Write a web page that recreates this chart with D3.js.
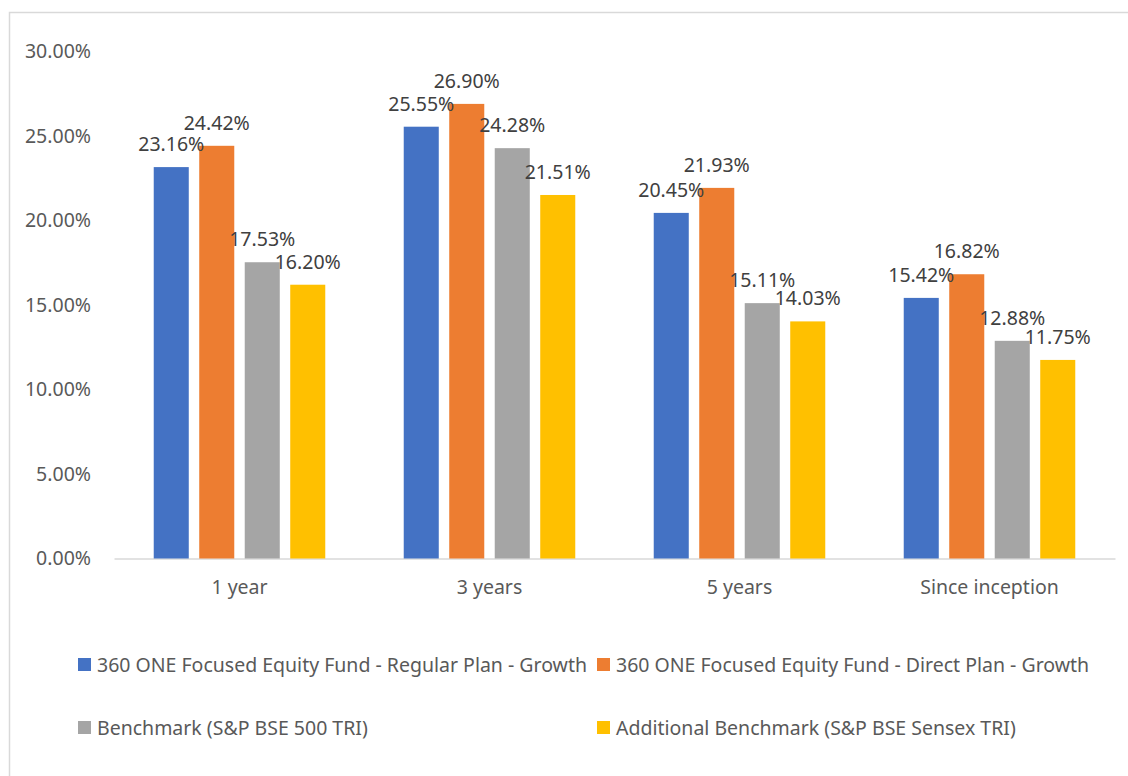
<!DOCTYPE html>
<html>
<head>
<meta charset="utf-8">
<script src="https://cdn.jsdelivr.net/npm/d3@7"></script>
<style>
  body { margin: 0; background: #fff; }
  text { font-family: "Noto Sans", "Open Sans", sans-serif; }
</style>
</head>
<body>
<div id="chart"></div>
<script>
// Data
var categories = ["1 year", "3 years", "5 years", "Since inception"];
var seriesNames = [
  "360 ONE Focused Equity Fund - Regular Plan - Growth",
  "360 ONE Focused Equity Fund - Direct Plan - Growth",
  "Benchmark (S&P BSE 500 TRI)",
  "Additional Benchmark (S&P BSE Sensex TRI)"
];
var regularPlan = [23.16, 25.55, 20.45, 15.42];
var directPlan = [24.42, 26.90, 21.93, 16.82];
var benchmark = [17.53, 24.28, 15.11, 12.88];
var addBenchmark = [16.20, 21.51, 14.03, 11.75];
var yTicks = [0, 5, 10, 15, 20, 25, 30];
var colors = ["#4472C4", "#ED7D31", "#A5A5A5", "#FFC000"];

var allSeries = [regularPlan, directPlan, benchmark, addBenchmark];

var svgWidth = 1128;
var svgHeight = 776;
var fontFam = "Noto Sans, Open Sans, sans-serif";
var fontSize = 19.5;

var svg = d3.select("#chart")
  .append("svg")
  .attr("width", svgWidth)
  .attr("height", svgHeight);

// chart border
svg.append("rect")
  .attr("x", 9.5)
  .attr("y", 12.5)
  .attr("width", 1300)
  .attr("height", 900)
  .attr("fill", "none")
  .attr("stroke", "#D9D9D9")
  .attr("stroke-width", 1.5);

// scales
var x0 = d3.scaleBand()
  .domain(categories)
  .range([114, 1115])
  .paddingInner(0.272)
  .paddingOuter(0.138);

var x1 = d3.scaleBand()
  .domain(d3.range(seriesNames.length))
  .range([0, x0.bandwidth()])
  .paddingInner(0.23)
  .paddingOuter(0.115);

var y = d3.scaleLinear()
  .domain([0, 30])
  .range([558.5, 51.5]);

// y axis labels (no line, no grid)
var leftAxis = d3.axisLeft(y)
  .tickValues(yTicks)
  .tickFormat(function(d) { return d3.format(".2f")(d) + "%"; })
  .tickSize(0)
  .tickPadding(0);

var yAxisG = svg.append("g")
  .attr("transform", "translate(91, 0)")
  .call(leftAxis);
yAxisG.select(".domain").remove();
yAxisG.selectAll("text")
  .attr("font-size", fontSize)
  .attr("font-family", fontFam)
  .attr("fill", "#595959");

// x axis
var bottomAxis = d3.axisBottom(x0).tickSize(0).tickPadding(22);
var xAxisG = svg.append("g")
  .attr("transform", "translate(0, " + y(0) + ")")
  .call(bottomAxis);
xAxisG.select(".domain").attr("stroke", "#D9D9D9").attr("stroke-width", 1.5);
xAxisG.selectAll("text")
  .attr("font-size", fontSize)
  .attr("font-family", fontFam)
  .attr("fill", "#595959");

// bars
var groups = svg.selectAll("g.cat")
  .data(categories)
  .enter()
  .append("g")
  .attr("class", "cat")
  .attr("transform", function(d) { return "translate(" + x0(d) + ",0)"; });

groups.selectAll("rect")
  .data(function(d, i) {
    return allSeries.map(function(s, j) { return { s: j, v: s[i] }; });
  })
  .enter()
  .append("rect")
  .attr("x", function(d) { return x1(d.s); })
  .attr("y", function(d) { return y(d.v); })
  .attr("width", x1.bandwidth())
  .attr("height", function(d) { return y(0) - y(d.v); })
  .attr("fill", function(d) { return colors[d.s]; });

// data labels
groups.selectAll("text.lbl")
  .data(function(d, i) {
    return allSeries.map(function(s, j) { return { s: j, v: s[i] }; });
  })
  .enter()
  .append("text")
  .attr("class", "lbl")
  .attr("x", function(d) { return x1(d.s) + x1.bandwidth() / 2; })
  .attr("y", function(d) { return y(d.v) - 16; })
  .attr("text-anchor", "middle")
  .attr("font-size", fontSize)
  .attr("fill", "#404040")
  .text(function(d) { return d3.format(".2f")(d.v) + "%"; });

// legend
var legendPos = [[78, 658], [597, 658], [78, 721], [597, 721]];
var legend = svg.selectAll("g.legend")
  .data(seriesNames)
  .enter()
  .append("g")
  .attr("class", "legend")
  .attr("transform", function(d, i) {
    return "translate(" + legendPos[i][0] + "," + legendPos[i][1] + ")";
  });

legend.append("rect")
  .attr("width", 13)
  .attr("height", 13)
  .attr("fill", function(d, i) { return colors[i]; });

legend.append("text")
  .attr("x", 19)
  .attr("y", 13.5)
  .attr("font-size", fontSize)
  .attr("fill", "#595959")
  .text(function(d) { return d; });
</script>
</body>
</html>
